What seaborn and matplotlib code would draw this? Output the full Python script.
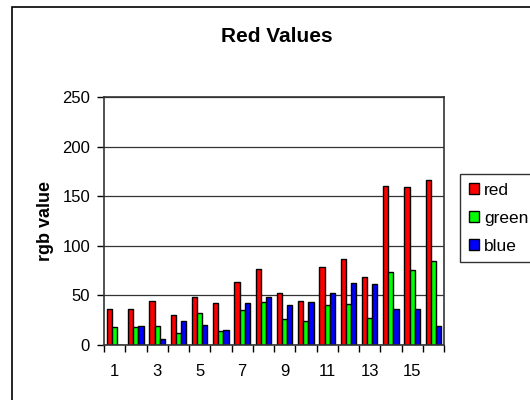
import numpy as np
import pandas as pd
import matplotlib
matplotlib.use("Agg")
import matplotlib.pyplot as plt
import seaborn as sns
from matplotlib.patches import Rectangle

# ----------------------------- DATA -----------------------------
groups = [str(i) for i in range(1, 17)]
red = [36, 36, 44, 30, 48, 42, 64, 77, 52, 44, 79, 87, 69, 160, 159, 166]
green = [18, 18, 19, 12, 32, 14, 35, 43, 26, 24, 40, 41, 27, 74, 76, 85]
blue = [0, 19, 6, 24, 20, 15, 42, 48, 40, 43, 52, 62, 61, 36, 36, 19]
series = ["red", "green", "blue"]
colors = ["#FF0000", "#00FF00", "#0000FF"]

df = pd.DataFrame({"group": groups, "red": red, "green": green, "blue": blue})
long_df = df.melt(id_vars="group", var_name="channel", value_name="value")

# ----------------------------- PLOT -----------------------------
sns.set_style("white")
plt.rcParams["font.family"] = ["Liberation Sans", "DejaVu Sans"]
plt.rcParams["text.color"] = "black"
plt.rcParams["axes.labelcolor"] = "black"
plt.rcParams["xtick.color"] = "black"
plt.rcParams["ytick.color"] = "black"

fig = plt.figure(figsize=(5.3, 4.0), dpi=100)
ax = fig.add_axes([104 / 530, 1 - 345 / 400, 340 / 530, 248 / 400])

sns.barplot(data=long_df, x="group", y="value", hue="channel",
            hue_order=series, palette=colors, width=0.72,
            edgecolor="black", linewidth=1.0, saturation=1, ax=ax)

ax.set_ylim(0, 250)
ax.set_xlim(-0.5, 15.5)
ax.set_yticks([0, 50, 100, 150, 200, 250])
ax.yaxis.grid(True, color="#333333", linewidth=0.9)
ax.set_axisbelow(True)
for s in ax.spines.values():
    s.set_color("#333333")
    s.set_linewidth(1.2)

ax.set_xticks(range(16))
ax.set_xticklabels([g if int(g) % 2 == 1 else "" for g in groups])
ax.set_xticks(np.arange(-0.5, 16, 1), minor=True)
ax.tick_params(axis="x", which="major", length=0, pad=14, labelsize=12)
ax.tick_params(axis="x", which="minor", length=5, width=1, color="black",
               direction="out", bottom=True)
ax.tick_params(axis="y", length=5, width=1, color="black", direction="out",
               left=True, labelsize=12, pad=5)

ax.set_xlabel("")
ax.set_ylabel("rgb value", fontsize=13, fontweight="bold", labelpad=6)
fig.text(0.5 + 12 / 530, 1 - 36 / 400, "Red Values", ha="center", va="center",
         fontsize=15, fontweight="bold")

leg = ax.legend(loc="upper left", bbox_to_anchor=(460 / 530, 1 - 174 / 400),
                bbox_transform=fig.transFigure, frameon=True, fancybox=False,
                fontsize=12.5, handlelength=0.6, handleheight=0.6,
                handletextpad=0.3, labelspacing=0.75, borderpad=0.5,
                borderaxespad=0)
leg.get_frame().set_edgecolor("black")
leg.get_frame().set_linewidth(1.0)

fig.patches.append(Rectangle((12 / 530, -0.05), 1.0, 1 - 7 / 400 + 0.05,
                             transform=fig.transFigure, fill=False,
                             edgecolor="black", linewidth=1.2))

fig.savefig("out.png", dpi=100)
